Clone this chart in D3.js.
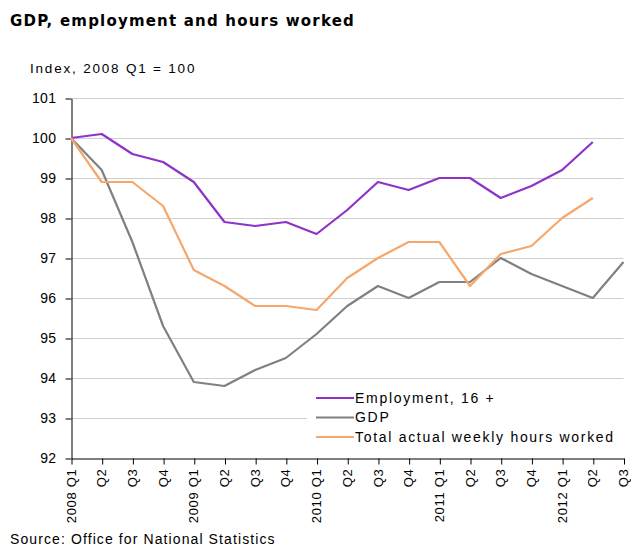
<!DOCTYPE html>
<html>
<head>
<meta charset="utf-8">
<script src="https://cdn.jsdelivr.net/npm/d3@7"></script>
<style>
  body { margin: 0; background: #fff; }
  svg { display: block; font-family: "Liberation Sans", Arial, sans-serif; }
</style>
</head>
<body>
<div id="chart"></div>
<script>
const w = 631,
      h = 546;
const margin = {top: 98, left: 71, right: 7, bottom: 88};

// quarters 2008 Q1 .. 2012 Q3
const quarters = ['2008 Q1', 'Q2', 'Q3', 'Q4', '2009 Q1', 'Q2', 'Q3', 'Q4', '2010 Q1', 'Q2', 'Q3', 'Q4',
                  '2011 Q1', 'Q2', 'Q3', 'Q4', '2012 Q1', 'Q2', 'Q3'];
const employment = [100, 100.1, 99.6, 99.4, 98.9, 97.9, 97.8, 97.9, 97.6, 98.2, 98.9, 98.7, 99.0, 99.0, 98.5, 98.8, 99.2, 99.9];
const gdp = [100, 99.2, 97.4, 95.3, 93.9, 93.8, 94.2, 94.5, 95.1, 95.8, 96.3, 96.0, 96.4, 96.4, 97.0, 96.6, 96.3, 96.0, 96.9];
const hours = [100, 98.9, 98.9, 98.3, 96.7, 96.3, 95.8, 95.8, 95.7, 96.5, 97.0, 97.4, 97.4, 96.3, 97.1, 97.3, 98.0, 98.5];
const yTicks = [92, 93, 94, 95, 96, 97, 98, 99, 100, 101];

const series = [
    {name: 'Employment, 16 +', values: employment, color: '#8e32c8'},
    {name: 'GDP', values: gdp, color: '#808080'},
    {name: 'Total actual weekly hours worked', values: hours, color: '#f5a76c'}
];

const svg = d3.select('#chart').append('svg').attr('width', w).attr('height', h);

const x = d3.scaleLinear().domain([0, quarters.length - 1]).range([margin.left, 623.5]);
const y = d3.scaleLinear().domain([92, 101]).range([h - margin.bottom, margin.top]);

// title + unit
svg.append('text').attr('x', 10).attr('y', 26)
   .style('font-family', '"DejaVu Sans", Verdana, sans-serif')
   .style('font-weight', 'bold').style('font-size', '15px').style('letter-spacing', '1.2px')
   .text('GDP, employment and hours worked');
svg.append('text').attr('x', 30).attr('y', 73)
   .style('font-size', '13.5px').style('letter-spacing', '1.8px')
   .text('Index, 2008 Q1 = 100');

// gridlines
svg.append('g').selectAll('line')
   .data(yTicks.slice(1))
   .enter().append('line')
   .attr('x1', x(0)).attr('x2', x(quarters.length - 1))
   .attr('y1', d => y(d) + 0.5).attr('y2', d => y(d) + 0.5)
   .attr('stroke', '#cfcfcf').attr('stroke-width', 1.2);

// y axis
const yAxis = d3.axisLeft(y).tickValues(yTicks).tickSize(6).tickPadding(9).tickSizeOuter(0);
const gy = svg.append('g').attr('transform', `translate(${x(0) + 0.5},0.5)`).call(yAxis);
gy.selectAll('text').style('font-size', '14px').style('letter-spacing', '0.4px').attr('fill', '#000');

// x axis
const xAxis = d3.axisBottom(x).tickValues(d3.range(quarters.length)).tickFormat(i => quarters[i])
                .tickSize(6).tickSizeOuter(0);
const gx = svg.append('g').attr('transform', `translate(0.5,${y(92) + 0.5})`).call(xAxis);
gx.selectAll('text')
  .style('font-size', '13px').style('letter-spacing', '0.7px').attr('fill', '#000')
  .attr('text-anchor', 'end')
  .attr('transform', 'rotate(-90)')
  .attr('x', -10).attr('y', -1).attr('dy', '0.35em');
gx.selectAll('.domain, line').attr('stroke', '#000');
gy.selectAll('.domain, line').attr('stroke', '#000');

// lines
const line = d3.line().x((d, i) => x(i)).y(d => y(d));
svg.append('g').selectAll('path')
   .data(series)
   .enter().append('path')
   .attr('d', d => line(d.values))
   .attr('fill', 'none')
   .attr('stroke', d => d.color)
   .attr('stroke-width', 2.2)
   .attr('stroke-linejoin', 'round');

// legend
const legend = svg.append('g').attr('transform', 'translate(307,386)');
legend.append('rect').attr('width', 320).attr('height', 62).attr('fill', '#fff');
const item = legend.selectAll('g.item')
   .data(series)
   .enter().append('g').attr('class', 'item')
   .attr('transform', (d, i) => `translate(0,${12 + i * 19.5})`);
item.append('line').attr('x1', 9).attr('x2', 47)
    .attr('stroke', d => d.color).attr('stroke-width', 2);
item.append('text').attr('x', 48).attr('dy', '0.35em')
    .style('font-size', '14px').style('letter-spacing', '1.7px')
    .text(d => d.name);

// source
svg.append('text').attr('x', 10).attr('y', 544)
   .style('font-size', '14px').style('letter-spacing', '1.1px')
   .text('Source: Office for National Statistics');
</script>
</body>
</html>
